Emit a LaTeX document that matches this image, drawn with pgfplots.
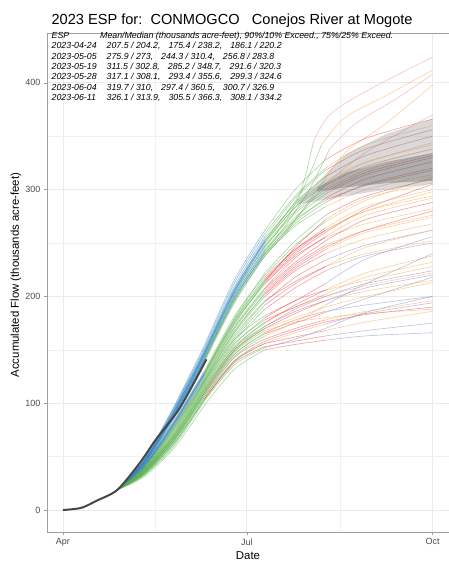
\documentclass[border=0pt]{standalone}
\usepackage{fontspec}
\setmainfont{Liberation Sans}
\usepackage{pgfplots}
\pgfplotsset{compat=1.18}
\definecolor{cb}{HTML}{3182BD}
\definecolor{cg}{HTML}{5AAE4A}
\definecolor{cr}{HTML}{E41A1C}
\definecolor{co}{HTML}{F7A040}
\definecolor{cp}{HTML}{8E8AC6}
\definecolor{ck}{HTML}{E89AA0}
\definecolor{gridc}{HTML}{EBEBEB}
\definecolor{tickc}{HTML}{4D4D4D}
\pgfplotsset{
 sb/.style={cb, opacity=0.5, line width=0.6pt},
 sg/.style={cg, opacity=0.5, line width=0.6pt},
 sr/.style={cr, opacity=0.42, line width=0.6pt},
 so/.style={co, opacity=0.5, line width=0.6pt},
 sp/.style={cp, opacity=0.55, line width=0.6pt},
 sk/.style={ck, opacity=0.6, line width=0.6pt},
}
% early part of a trace: style S1, style S2, values at days 27,40,55,70,85,100
\newcommand\early[8]{\addplot[#1,smooth] coordinates {(27,#3)(40,#4)(55,#5)(70,#6)};
 \addplot[#2,smooth] coordinates {(70,#6)(85,#7)(100,#8)};}
% late part: style S3, style S4, values at days 100,115,130,150,183
\newcommand\late[7]{\addplot[#1,smooth] coordinates {(100,#3)(115,#4)(130,#5)};
 \addplot[#2,smooth] coordinates {(130,#5)(150,#6)(183,#7)};}
\begin{document}
\begin{tikzpicture}
\useasboundingbox (0,0) rectangle (449pt,563pt);
\begin{axis}[
 at={(47pt,31pt)}, anchor=south west, scale only axis,
 width=402pt, height=499pt,
 xmin=-7.9, xmax=191.1, ymin=-20.6, ymax=446.6,
 xtick={0,91,183}, xticklabels={Apr,Jul,Oct},
 minor xtick={45.5,137},
 ytick={0,100,200,300,400}, yticklabels={0,100,200,300,400},
 minor ytick={50,150,250,350},
 grid=both,
 major grid style={gridc, line width=0.6pt},
 minor grid style={gridc!70, line width=0.4pt},
 axis line style={gray!75, line width=0.5pt},
 tick style={gray!75, line width=0.5pt},
 tick align=outside, major tick length=3pt, minor tick length=0pt,
 xtick pos=bottom, ytick pos=left,
 ticklabel style={font=\fontsize{9}{10}\selectfont, text=tickc},
 no markers,
]
% ---------------- traces: fast (blue early, green mid, red late)
\early{sb}{sb}{19}{46}{95}{150}{210}{256} \late{sg}{sr}{256}{292}{318}{338}{356}
\early{sb}{sb}{19}{45}{93}{147}{206}{250} \late{sg}{so}{250}{284}{306}{325}{344}
\early{sb}{sb}{19}{47}{97}{154}{216}{262} \late{sg}{sr}{262}{300}{328}{348}{366}
\early{sb}{sb}{19}{44}{90}{143}{200}{244} \late{sg}{sr}{244}{274}{296}{314}{330}
\early{sb}{sb}{19}{45}{92}{146}{204}{248} \late{sg}{so}{248}{280}{300}{318}{334}
\early{sb}{sb}{19}{43}{88}{140}{196}{238} \late{sg}{sr}{238}{268}{288}{305}{320}
\early{sb}{sb}{19}{44}{89}{142}{198}{241} \late{sg}{sr}{241}{270}{292}{310}{326}
\early{sb}{sb}{19}{46}{94}{149}{208}{252} \late{sg}{sr}{252}{288}{312}{332}{350}
\early{sb}{sb}{19}{45}{91}{145}{203}{247} \late{sg}{sr}{247}{278}{298}{316}{332}
\early{sb}{sb}{19}{46}{93}{148}{207}{254} \late{sg}{so}{254}{286}{308}{326}{342}
\early{sb}{sb}{19}{44}{90}{144}{201}{243} \late{sg}{sr}{243}{272}{290}{304}{318}
\early{sb}{sb}{19}{45}{92}{146}{205}{251} \late{sg}{sr}{251}{283}{304}{322}{338}
\early{sb}{sb}{19}{47}{96}{152}{213}{259} \late{sg}{so}{259}{294}{320}{342}{360}
\early{sb}{sb}{19}{43}{89}{141}{199}{240} \late{sg}{so}{240}{266}{284}{300}{314}
% ---------------- high traces
\early{sb}{sb}{19}{45}{92}{147}{205}{252}
\addplot[sg,smooth] coordinates {(100,252)(110,276)(118,300)(124,345)};
\addplot[sk,smooth] coordinates {(124,345)(132,370)(150,392)(183,424)};
\early{sb}{sg}{19}{44}{90}{144}{202}{246}
\addplot[sg,smooth] coordinates {(100,246)(110,270)(120,305)(128,342)};
\addplot[so,smooth] coordinates {(128,342)(140,368)(160,388)(183,412)};
\early{sb}{sg}{19}{43}{88}{141}{198}{242}
\addplot[sg,smooth] coordinates {(100,242)(110,266)(122,300)(132,338)};
\addplot[sk,smooth] coordinates {(132,338)(145,362)(165,385)(183,408)};
\early{sb}{sg}{19}{42}{86}{138}{194}{238}
\addplot[sg,smooth] coordinates {(100,238)(112,264)(126,300)};
\addplot[so,smooth] coordinates {(126,300)(140,335)(160,362)(183,398)};
\early{sb}{sg}{19}{43}{87}{140}{196}{240}
\addplot[sg,smooth] coordinates {(100,240)(115,272)(130,305)};
\addplot[sk,smooth] coordinates {(130,305)(150,335)(183,370)};
% ---------------- middle traces
\early{sb}{sg}{19}{40}{80}{126}{175}{212} \late{sr}{so}{212}{238}{255}{268}{282}
\early{sb}{sg}{19}{39}{78}{122}{170}{205} \late{sr}{so}{205}{230}{248}{262}{276}
\early{sb}{sg}{19}{41}{82}{128}{178}{215} \late{sr}{so}{215}{242}{262}{280}{298}
\early{sg}{sg}{19}{38}{76}{120}{166}{200} \late{sr}{so}{200}{224}{240}{254}{268}
\early{sg}{sg}{19}{37}{74}{118}{162}{195} \late{sr}{sp}{195}{218}{234}{248}{262}
\early{sb}{sg}{19}{40}{79}{124}{172}{208} \late{sr}{so}{208}{236}{256}{276}{292}
\early{sg}{sg}{19}{38}{75}{119}{164}{196} \late{sr}{so}{196}{214}{228}{240}{252}
\early{sg}{sg}{19}{36}{72}{116}{158}{188} \late{sr}{sp}{188}{208}{224}{238}{250}
\early{sb}{sg}{19}{41}{81}{127}{176}{213} \late{sr}{sr}{213}{240}{260}{282}{305}
\early{sb}{sg}{19}{42}{84}{130}{182}{220} \late{sg}{so}{220}{248}{270}{290}{312}
\early{sb}{sg}{19}{42}{83}{129}{180}{222} \late{sg}{sr}{222}{252}{276}{294}{310}
\early{sg}{sg}{19}{41}{80}{125}{174}{214} \late{sr}{so}{214}{246}{272}{292}{306}
\early{sb}{sg}{19}{40}{81}{127}{177}{216} \late{sr}{so}{216}{244}{264}{284}{300}
\early{sg}{sg}{19}{39}{77}{121}{168}{202} \late{sr}{so}{202}{226}{244}{260}{274}
\early{sg}{sg}{19}{38}{76}{121}{167}{203} \late{sr}{sr}{203}{228}{246}{262}{280}
\early{sb}{sg}{19}{41}{82}{128}{179}{218} \late{sr}{so}{218}{244}{262}{280}{294}
\early{sg}{sg}{19}{37}{73}{117}{160}{192} \late{sr}{so}{192}{212}{228}{246}{262}
\early{sg}{sg}{19}{39}{78}{123}{171}{207} \late{sr}{sr}{207}{232}{252}{272}{288}
% ---------------- low traces
\early{sg}{sg}{19}{35}{68}{110}{150}{172} \late{sr}{so}{172}{186}{196}{205}{215}
\early{sg}{sg}{19}{36}{70}{112}{152}{176} \late{so}{so}{176}{190}{200}{210}{222}
\early{sg}{sg}{19}{37}{71}{114}{155}{180} \late{sr}{so}{180}{196}{206}{215}{228}
\early{sg}{sg}{19}{34}{66}{108}{146}{166} \late{sr}{sp}{166}{178}{186}{192}{200}
\early{sg}{sr}{19}{33}{63}{104}{140}{158} \late{sr}{sr}{158}{168}{176}{183}{190}
\early{sg}{sg}{19}{35}{67}{109}{148}{168} \late{so}{so}{168}{176}{180}{184}{188}
\early{sg}{sg}{19}{35}{67}{110}{149}{170} \late{sr}{sp}{170}{184}{196}{208}{220}
\early{sg}{sr}{19}{34}{65}{106}{143}{160} \late{sr}{so}{160}{170}{178}{186}{196}
\early{sg}{sg}{19}{36}{69}{113}{153}{175} \late{sr}{so}{175}{192}{206}{222}{238}
\early{sg}{sg}{19}{33}{62}{103}{139}{156} \late{so}{sp}{156}{166}{174}{184}{194}
% ---------------- lowest traces
\early{sg}{sg}{19}{31}{58}{98}{132}{150} \late{sr}{sp}{150}{155}{159}{163}{166}
\early{sg}{sr}{19}{33}{62}{104}{138}{153} \late{sr}{sp}{153}{158}{163}{168}{175}
\early{sg}{sg}{19}{34}{64}{106}{140}{156} \late{sr}{so}{156}{162}{168}{176}{186}
\early{sg}{sg}{19}{32}{60}{102}{136}{152} \late{sp}{sp}{152}{160}{170}{185}{200}
\early{sg}{sg}{19}{35}{66}{110}{146}{165} \late{sr}{sp}{165}{175}{185}{198}{218}
\early{sg}{sr}{19}{36}{68}{112}{150}{170} \late{so}{so}{170}{180}{190}{200}{213}
\early{sg}{sg}{19}{34}{65}{108}{144}{163} \late{so}{sp}{163}{176}{192}{212}{240}
\early{sg}{sg}{19}{37}{70}{116}{156}{178} \late{sr}{so}{178}{190}{202}{218}{232}
\early{sg}{sg}{19}{36}{69}{114}{152}{172} \late{sp}{sp}{172}{188}{200}{212}{224}
\early{sg}{sg}{19}{38}{72}{120}{160}{182} \late{sr}{sp}{182}{196}{212}{235}{256}
% ---------------- ribbons (06-11 ESP exceedance bands)
\addplot[fill=gray, fill opacity=0.3, draw=none] coordinates {(116,286)(125,289)(140,294)(160,300)(183,305.5)(183,366.3)(160,352)(140,333)(125,305)(116,290)} -- cycle;
\addplot[fill=black!70, fill opacity=0.3, draw=none] coordinates {(126,298)(140,302)(160,306)(183,308.1)(183,334.2)(160,326)(140,316)(126,302)} -- cycle;
% ---------------- observed
\addplot[color=black!72, line width=2pt, smooth] coordinates {(0,0)(9,2)(17,9)(27,19)(38,44)(46,66)(58,96)(71,141)};
\end{axis}
% ---------------- titles and annotation
\node[anchor=base west, font=\fontsize{14.6}{16}\selectfont] at (48pt,538pt) {2023 ESP for:\ \ CONMOGCO\ \ \ Conejos River at Mogote};
\node[rotate=90, font=\fontsize{11.4}{12}\selectfont] at (16pt,288pt) {Accumulated Flow (thousands acre-feet)};
\node[font=\fontsize{11.4}{12}\selectfont] at (248pt,7pt) {Date};
\begin{scope}[every node/.style={anchor=base west, inner sep=0pt, font=\fontsize{8.8}{9}\selectfont\itshape}]
\node at (51.5pt,524.8pt) {ESP};
\node at (100pt,524.8pt) {Mean/Median (thousands acre-feet), 90\%/10\% Exceed., 75\%/25\% Exceed.};
\node at (51.5pt,514.4pt) {2023-04-24};
\node at (106.5pt,514.4pt) {207.5 / 204.2,\hspace{8pt}175.4 / 238.2,\hspace{8pt}186.1 / 220.2};
\node at (51.5pt,503.9pt) {2023-05-05};
\node at (106.5pt,503.9pt) {275.9 / 273,\hspace{8pt}244.3 / 310.4,\hspace{8pt}256.8 / 283.8};
\node at (51.5pt,493.5pt) {2023-05-19};
\node at (106.5pt,493.5pt) {311.5 / 302.8,\hspace{8pt}285.2 / 348.7,\hspace{8pt}291.6 / 320.3};
\node at (51.5pt,483.0pt) {2023-05-28};
\node at (106.5pt,483.0pt) {317.1 / 308.1,\hspace{8pt}293.4 / 355.6,\hspace{8pt}299.3 / 324.6};
\node at (51.5pt,472.6pt) {2023-06-04};
\node at (106.5pt,472.6pt) {319.7 / 310,\hspace{8pt}297.4 / 360.5,\hspace{8pt}300.7 / 326.9};
\node at (51.5pt,462.1pt) {2023-06-11};
\node at (106.5pt,462.1pt) {326.1 / 313.9,\hspace{8pt}305.5 / 366.3,\hspace{8pt}308.1 / 334.2};
\end{scope}
\end{tikzpicture}
\end{document}
